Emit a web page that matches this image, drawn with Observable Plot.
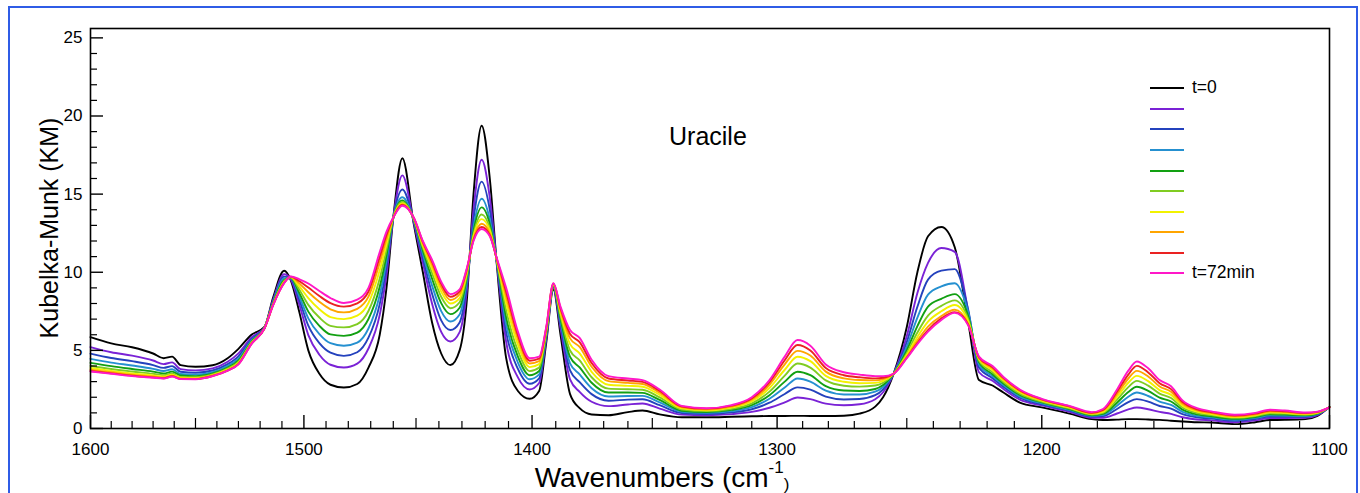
<!DOCTYPE html>
<html><head><meta charset="utf-8">
<script src="https://cdn.jsdelivr.net/npm/d3@7"></script>
<script src="https://cdn.jsdelivr.net/npm/@observablehq/plot@0.6"></script>
<style>
body{margin:0;background:#fff;font-family:Arial,"Liberation Sans",sans-serif;}
#wrap{position:relative;width:1360px;height:493px;overflow:hidden;background:#fff;}
#wrap svg{position:absolute;left:0;top:0;}
.border{position:absolute;left:8px;top:6px;width:1350px;height:600px;border:2px solid #2f5ce6;box-sizing:border-box;}
.txt{position:absolute;white-space:nowrap;color:#000;line-height:1;}
.leg{position:absolute;height:2px;width:34px;}
</style></head><body><div id="wrap"><div class="border"></div></div>
<script>
// ---- data ----
const wavenumbers = [1600,1590,1580,1570,1565,1561,1557,1550,1542,1535,
 1530,1524,1518,1514,1509,1506,1502,1498,1493,1488,
 1482,1476,1471,1466,1463,1460,1456,1451,1447,1443,
 1439,1435,1431,1428,1425,1421.5,1418,1415,1411,1406,
 1401,1397,1394,1391,1388,1384,1380,1375,1368,1360,
 1354,1347,1338,1328,1318,1310,1303,1297,1292,1287,
 1281,1274,1268,1262,1259,1255,1250,1246,1242,1237,
 1232,1227,1223,1218,1214,1208,1200,1190,1182,1178,
 1173,1169,1166,1162,1158,1154,1150,1145,1140,1132,
 1125,1120,1115,1108,1104,1100];

const km_t0 = [5.85,5.45,5.2,4.8,4.5,4.6,4.06,3.95,4.05,4.5, 5.1,6.0,6.5,8.4,10.1,9.5,7.4,5.0,3.5,2.8, 2.62,2.85,3.9,6.0,9.0,13.5,17.3,13.1,10.0,6.8, 4.8,4.06,5.0,8.0,15.0,19.38,16.0,10.5,4.5,2.4, 1.9,2.4,5.5,8.9,6.0,2.2,1.3,0.9,0.85,1.05, 1.15,0.9,0.72,0.72,0.75,0.78,0.8,0.8,0.81,0.8, 0.8,0.82,0.95,1.4,2.0,3.5,6.5,10.0,12.3,12.9, 11.6,6.8,3.1,2.75,2.3,1.66,1.35,0.95,0.6,0.54, 0.57,0.6,0.6,0.58,0.55,0.5,0.45,0.4,0.38,0.28, 0.4,0.54,0.55,0.6,0.8,1.4];
const km_s1 = [5.21,4.88,4.66,4.35,4.12,4.23,3.8,3.72,3.85,4.27, 4.81,5.83,6.47,8.25,9.87,9.55,7.89,5.98,4.72,4.08, 3.9,4.15,5.12,7.27,9.83,13.5,16.2,13.2,10.6,8.0, 6.18,5.57,6.17,8.66,14.01,17.2,14.78,10.6,5.54,3.27, 2.5,2.91,5.73,8.99,6.41,3.14,2.34,1.71,1.43,1.54, 1.6,1.27,0.89,0.85,0.92,1.06,1.33,1.67,1.98,1.88, 1.59,1.49,1.55,1.87,2.32,3.5,5.92,8.67,10.6,11.55, 11.3,7.5,3.6,3.05,2.53,1.85,1.48,1.07,0.69,0.68, 0.96,1.22,1.34,1.23,1.06,0.94,0.72,0.58,0.52,0.4, 0.52,0.67,0.67,0.68,0.86,1.36];
const km_s2 = [4.79,4.51,4.31,4.06,3.88,3.99,3.63,3.57,3.71,4.12, 4.62,5.71,6.45,8.16,9.72,9.6,8.2,6.58,5.46,4.85, 4.65,4.88,5.81,7.96,10.33,13.5,15.3,13.3,10.92,8.64, 6.92,6.3,6.79,9.01,13.38,15.8,14.0,10.65,6.17,3.81, 2.86,3.21,5.87,9.05,6.67,3.72,2.97,2.2,1.78,1.85, 1.87,1.49,0.99,0.93,1.03,1.23,1.65,2.21,2.63,2.49, 2.04,1.86,1.89,2.13,2.51,3.5,5.54,7.79,9.53,10.1, 10.2,7.6,3.9,3.22,2.67,1.97,1.55,1.14,0.76,0.79, 1.25,1.69,1.88,1.72,1.44,1.27,0.92,0.72,0.63,0.49, 0.61,0.77,0.76,0.75,0.9,1.36];
const km_s3 = [4.46,4.22,4.03,3.82,3.68,3.79,3.49,3.45,3.61,4.0, 4.47,5.62,6.44,8.08,9.6,9.62,8.43,7.05,6.04,5.46, 5.3,5.5,6.4,8.54,10.73,13.5,14.8,13.35,11.18,9.16, 7.51,6.85,7.3,9.3,12.87,14.7,13.37,10.7,6.66,4.22, 3.15,3.46,5.98,9.09,6.86,4.17,3.46,2.58,2.05,2.08, 2.09,1.67,1.07,1.0,1.11,1.37,1.9,2.62,3.2,3.0, 2.42,2.18,2.18,2.36,2.66,3.5,5.24,7.1,8.57,9.1, 9.3,7.45,4.1,3.36,2.78,2.06,1.61,1.19,0.81,0.87, 1.46,2.03,2.3,2.08,1.72,1.51,1.07,0.81,0.71,0.56, 0.68,0.84,0.83,0.79,0.93,1.36];
const km_s4 = [4.2,3.99,3.81,3.64,3.52,3.64,3.39,3.35,3.53,3.9, 4.35,5.55,6.43,8.03,9.5,9.65,8.65,7.48,6.57,6.02, 5.93,6.14,7.01,9.07,11.09,13.5,14.6,13.4,11.4,9.6, 8.02,7.32,7.73,9.54,12.63,14.15,13.08,10.72,7.11,4.6, 3.41,3.68,6.08,9.13,7.04,4.58,3.91,2.93,2.3,2.3, 2.28,1.83,1.14,1.06,1.19,1.49,2.13,3.0,3.63,3.41, 2.71,2.43,2.4,2.53,2.78,3.5,5.0,6.55,7.8,8.3, 8.6,7.2,4.25,3.47,2.88,2.15,1.67,1.24,0.85,0.94, 1.65,2.34,2.67,2.41,1.98,1.73,1.21,0.9,0.78,0.62, 0.74,0.91,0.89,0.84,0.96,1.36];
const km_s5 = [4.0,3.81,3.65,3.5,3.41,3.52,3.3,3.28,3.46,3.83, 4.26,5.5,6.42,7.98,9.43,9.67,8.86,7.91,7.1,6.57, 6.47,6.68,7.52,9.6,11.45,13.5,14.5,13.42,11.58,9.96, 8.43,7.7,8.08,9.74,12.42,13.7,12.82,10.75,7.56,4.98, 3.67,3.9,6.18,9.17,7.22,4.99,4.36,3.28,2.55,2.51, 2.48,1.99,1.22,1.11,1.26,1.61,2.36,3.38,4.16,3.9, 3.08,2.74,2.68,2.75,2.93,3.5,4.82,6.14,7.22,7.85, 8.2,7.0,4.35,3.6,2.98,2.23,1.72,1.29,0.9,1.01, 1.84,2.65,3.05,2.74,2.23,1.95,1.34,0.99,0.86,0.68, 0.8,0.98,0.95,0.88,0.98,1.36];
const km_s6 = [3.87,3.69,3.53,3.4,3.33,3.45,3.25,3.23,3.42,3.78, 4.2,5.46,6.41,7.95,9.38,9.69,9.08,8.34,7.63,7.13, 7.0,7.22,8.03,10.13,11.81,13.5,14.42,13.45,11.72,10.24, 8.76,8.0,8.35,9.89,12.3,13.4,12.67,10.78,8.01,5.36, 3.93,4.12,6.28,9.21,7.4,5.4,4.81,3.63,2.8,2.73, 2.67,2.15,1.29,1.17,1.34,1.73,2.59,3.76,4.59,4.31, 3.37,2.99,2.9,2.92,3.05,3.5,4.7,5.86,6.84,7.5, 7.9,6.85,4.45,3.72,3.08,2.32,1.78,1.34,0.94,1.07, 2.02,2.93,3.37,3.03,2.46,2.15,1.46,1.08,0.92,0.73, 0.85,1.04,1.0,0.92,1.01,1.36];
const km_s7 = [3.76,3.6,3.44,3.33,3.26,3.38,3.2,3.19,3.39,3.74, 4.15,5.43,6.41,7.93,9.34,9.7,9.27,8.72,8.11,7.63, 7.43,7.66,8.44,10.61,12.13,13.5,14.35,13.47,11.84,10.48, 9.03,8.22,8.59,10.02,12.15,13.1,12.49,10.82,8.42,5.71, 4.16,4.31,6.37,9.25,7.57,5.77,5.22,3.95,3.03,2.92, 2.85,2.29,1.36,1.22,1.4,1.84,2.8,4.11,4.97,4.67, 3.64,3.21,3.1,3.08,3.16,3.5,4.6,5.63,6.52,7.2, 7.6,6.7,4.5,3.84,3.17,2.39,1.83,1.39,0.98,1.14, 2.19,3.2,3.69,3.33,2.69,2.35,1.58,1.16,0.98,0.78, 0.9,1.09,1.05,0.95,1.04,1.35];
const km_s8 = [3.68,3.53,3.38,3.27,3.22,3.34,3.17,3.16,3.36,3.71, 4.12,5.41,6.4,7.91,9.31,9.72,9.42,9.02,8.48,8.02, 7.8,8.01,8.77,10.98,12.38,13.5,14.3,13.49,11.94,10.68, 9.26,8.43,8.78,10.13,12.06,12.9,12.37,10.86,8.73,5.97, 4.34,4.47,6.44,9.28,7.69,6.05,5.53,4.19,3.2,3.07, 2.98,2.4,1.41,1.27,1.46,1.93,2.96,4.37,5.34,4.99, 3.87,3.41,3.28,3.21,3.25,3.5,4.53,5.47,6.3,7.05, 7.45,6.65,4.55,3.92,3.24,2.45,1.87,1.42,1.01,1.19, 2.35,3.45,4.01,3.59,2.9,2.52,1.69,1.23,1.04,0.83, 0.95,1.15,1.1,0.99,1.06,1.35];
const km_t72 = [3.65,3.5,3.35,3.25,3.2,3.32,3.16,3.15,3.35,3.7, 4.1,5.4,6.4,7.9,9.3,9.73,9.55,9.28,8.8,8.35, 8.03,8.25,9.0,11.3,12.6,13.5,14.26,13.5,12.0,10.8, 9.4,8.6,8.9,10.2,12.0,12.77,12.3,10.9,9.0,6.2, 4.5,4.6,6.5,9.3,7.8,6.3,5.8,4.4,3.35,3.2, 3.1,2.5,1.45,1.3,1.5,2.0,3.1,4.6,5.66,5.3, 4.1,3.6,3.45,3.35,3.35,3.5,4.5,5.4,6.2,6.95, 7.4,6.6,4.6,4.0,3.3,2.5,1.9,1.45,1.05,1.25, 2.5,3.7,4.29,3.85,3.1,2.7,1.8,1.3,1.1,0.88, 1.0,1.2,1.15,1.02,1.08,1.35];

const seriesLabels = ["t=0","","","","","","","","","t=72min"];
const seriesColors = ["#000000","#7a22d6","#2442bd","#2590d0","#12a012","#80cc22","#f2f200","#ffa500","#ea2222","#ff18c8"];
const xTickLabels = [1600,1500,1400,1300,1200,1100];
const yTickLabels = [0,5,10,15,20,25];
const annotation = "Uracile";

// ---- build table ----
const allSeries = [km_t0,km_s1,km_s2,km_s3,km_s4,km_s5,km_s6,km_s7,km_s8,km_t72];
const rows = [];
allSeries.forEach((vals,k)=>vals.forEach((v,i)=>rows.push({wn: wavenumbers[i], km: v, s: k})));

const xTicks10 = d3.range(1110,1600,10).filter(d => d % 50 !== 0);
const xTicks50 = d3.range(1150,1600,100);
const yTicks1 = d3.range(1,26).filter(d => d % 5 !== 0);
const FONT = 'Arial, "Liberation Sans", sans-serif';

const chart = Plot.plot({
  width: 1360, height: 493,
  marginLeft: 90, marginRight: 31, marginTop: 28, marginBottom: 65,
  x: {type: "log", domain: [1600, 1100]},
  y: {domain: [0, 25.6]},
  color: {type: "ordinal", domain: d3.range(10), range: seriesColors},
  style: {fontFamily: FONT, fontSize: "17px", color: "#000", background: "transparent", overflow: "visible"},
  marks: [
    Plot.line(rows, {x: "wn", y: "km", z: "s", stroke: "s", strokeWidth: 1.9, curve: "monotone-x"}),
    Plot.frame({stroke: "#000", strokeWidth: 1.6}),
    Plot.axisX(xTicks10, {anchor: "bottom", tickSize: -7, tickFormat: () => "", label: null, strokeWidth: 1.2}),
    Plot.axisX(xTicks50, {anchor: "bottom", tickSize: -10, tickFormat: () => "", label: null, strokeWidth: 1.2}),
    Plot.axisX(xTickLabels, {anchor: "bottom", tickSize: -13, tickFormat: () => "", label: null, strokeWidth: 1.4}),
    Plot.axisX(xTickLabels, {anchor: "bottom", tickSize: 0, tickPadding: 14, tickFormat: d => String(d), label: null, fontSize: 17}),
    Plot.axisY(yTicks1, {anchor: "left", tickSize: -7, tickFormat: () => "", label: null, strokeWidth: 1.2}),
    Plot.axisY(yTickLabels, {anchor: "left", tickSize: -13, tickFormat: () => "", label: null, strokeWidth: 1.4}),
    Plot.axisY(yTickLabels, {anchor: "left", tickSize: 0, tickPadding: 8, tickFormat: d => String(d), label: null, fontSize: 17})
  ]
});
const wrap = document.getElementById("wrap");
wrap.appendChild(chart);

function addText(str, css) {
  const d = document.createElement("div");
  d.className = "txt";
  d.innerHTML = str;
  Object.assign(d.style, css);
  wrap.appendChild(d);
  return d;
}
// y title
addText("Kubelka-Munk (KM)", {left: "49px", top: "228px", fontSize: "25px", transform: "translate(-50%,-50%) rotate(-90deg)"});
// x title
addText('Wavenumbers (cm<span style="position:relative;top:-14px;font-size:17px">-1</span><span style="position:relative;top:3px;font-size:17px">)</span>',
  {left: "662px", top: "464px", fontSize: "28px", transform: "translateX(-50%)"});
// annotation
addText(annotation, {left: "669px", top: "124px", fontSize: "25px"});
// legend
seriesColors.forEach((c, i) => {
  const y = 88.3 + i * 20.55;
  const ln = document.createElement("div");
  ln.className = "leg";
  Object.assign(ln.style, {left: "1150px", top: (y - 1) + "px", background: c});
  wrap.appendChild(ln);
  if (seriesLabels[i]) addText(seriesLabels[i], {left: "1192px", top: (y - 9) + "px", fontSize: "17.5px"});
});
</script>
</body></html>
